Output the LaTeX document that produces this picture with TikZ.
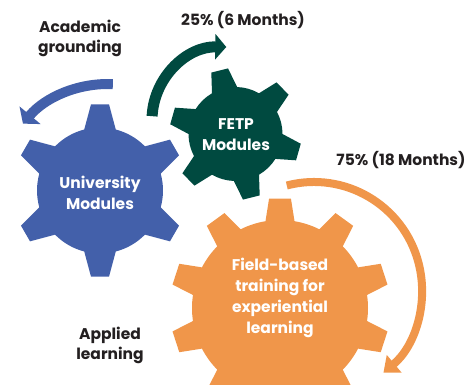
\documentclass[tikz,border=0pt]{standalone}
\usepackage{fontspec}
\setmainfont{Poppins}
\usepackage{tikz}
\usetikzlibrary{arrows.meta,positioning,calc}

\definecolor{unipurple}{RGB}{67,96,170}
\definecolor{fetpgreen}{RGB}{0,74,64}
\definecolor{fieldorange}{RGB}{240,150,74}
\definecolor{labelink}{RGB}{35,31,32}

% gear: fill style, centre, teeth, body radius, tip radius, first tooth angle, base half angle, tip half angle
\newcommand{\drawgear}[8]{%
  \fill[#1, shift={(#2)}] ({#6-#7}:#4)
    \foreach \k [evaluate=\k as \a using #6+(\k-1)*360/#3] in {1,...,#3} {
      -- ({\a-#8}:#5) -- ({\a+#8}:#5) -- ({\a+#7}:#4)
      arc[start angle={\a+#7}, end angle={\a+360/#3-#7}, radius=#4]
    } -- cycle;
}

\tikzset{
	lbl/.style={font=\bfseries\fontsize{15.5}{20}\selectfont, text=labelink, align=center, inner sep=0},
	geartext/.style={font=\bfseries\fontsize{15.5}{21}\selectfont, text=white, align=center, inner sep=0},
	uniarrow/.style={->,>={Triangle[width=27pt,length=11pt]}, draw=unipurple, line width=10pt},
	fetparrow/.style={->,>={Triangle[width=25pt,length=11pt]}, draw=fetpgreen, line width=11pt},
	fieldarrow/.style={->,>={Triangle[width=22pt,length=14pt]}, draw=fieldorange, line width=8pt}
}

\begin{document}
\begin{tikzpicture}[x=1pt, y=1pt]
\useasboundingbox (0,0) rectangle (468,385);
\clip (0,0) rectangle (468,385);

    \coordinate (unic) at (100,194.5);
    \coordinate (fetpc) at (235.5,251);
    \coordinate (fieldc) at (280,77);

    \drawgear{unipurple}{unic}{6}{63}{86.5}{90}{14.5}{6}
    \drawgear{fetpgreen}{fetpc}{6}{47}{66}{104}{16}{7.5}
    \drawgear{fieldorange}{fieldc}{10}{88}{110}{90}{9.5}{5.7}

    \node[geartext] (uni) at (100,192.5) {University\\Modules};
    \node[geartext] (fetp) at (236,250) {FETP\\Modules};
    \node[geartext] (field) at (280,87) {Field-based\\training for\\experiential\\learning};

    % rotation arrows
    \coordinate (uniarc) at (108,190);
    \coordinate (fetparc) at (225,265);
    \coordinate (fieldarc) at (314,95);
    \draw[uniarrow, shift={(uniarc)}] (87.5:111) arc[start angle=87.5, end angle=140, radius=111];
    \draw[fetparrow, shift={(fetparc)}] (177:73) arc[start angle=177, end angle=89, radius=73];
    \draw[fieldarrow, shift={(fieldarc)}] (104.6:108) arc[start angle=104.6, end angle=-50, radius=108];

    \node[lbl] (acad) at (80,347) {Academic\\grounding};
    \node[lbl] (short) at (243,365) {25\% (6 Months)};
    \node[lbl] (long) at (401,225) {75\% (18 Months)};
    \node[lbl] (applied) at (110,40) {Applied\\learning};
\end{tikzpicture}
\end{document}
